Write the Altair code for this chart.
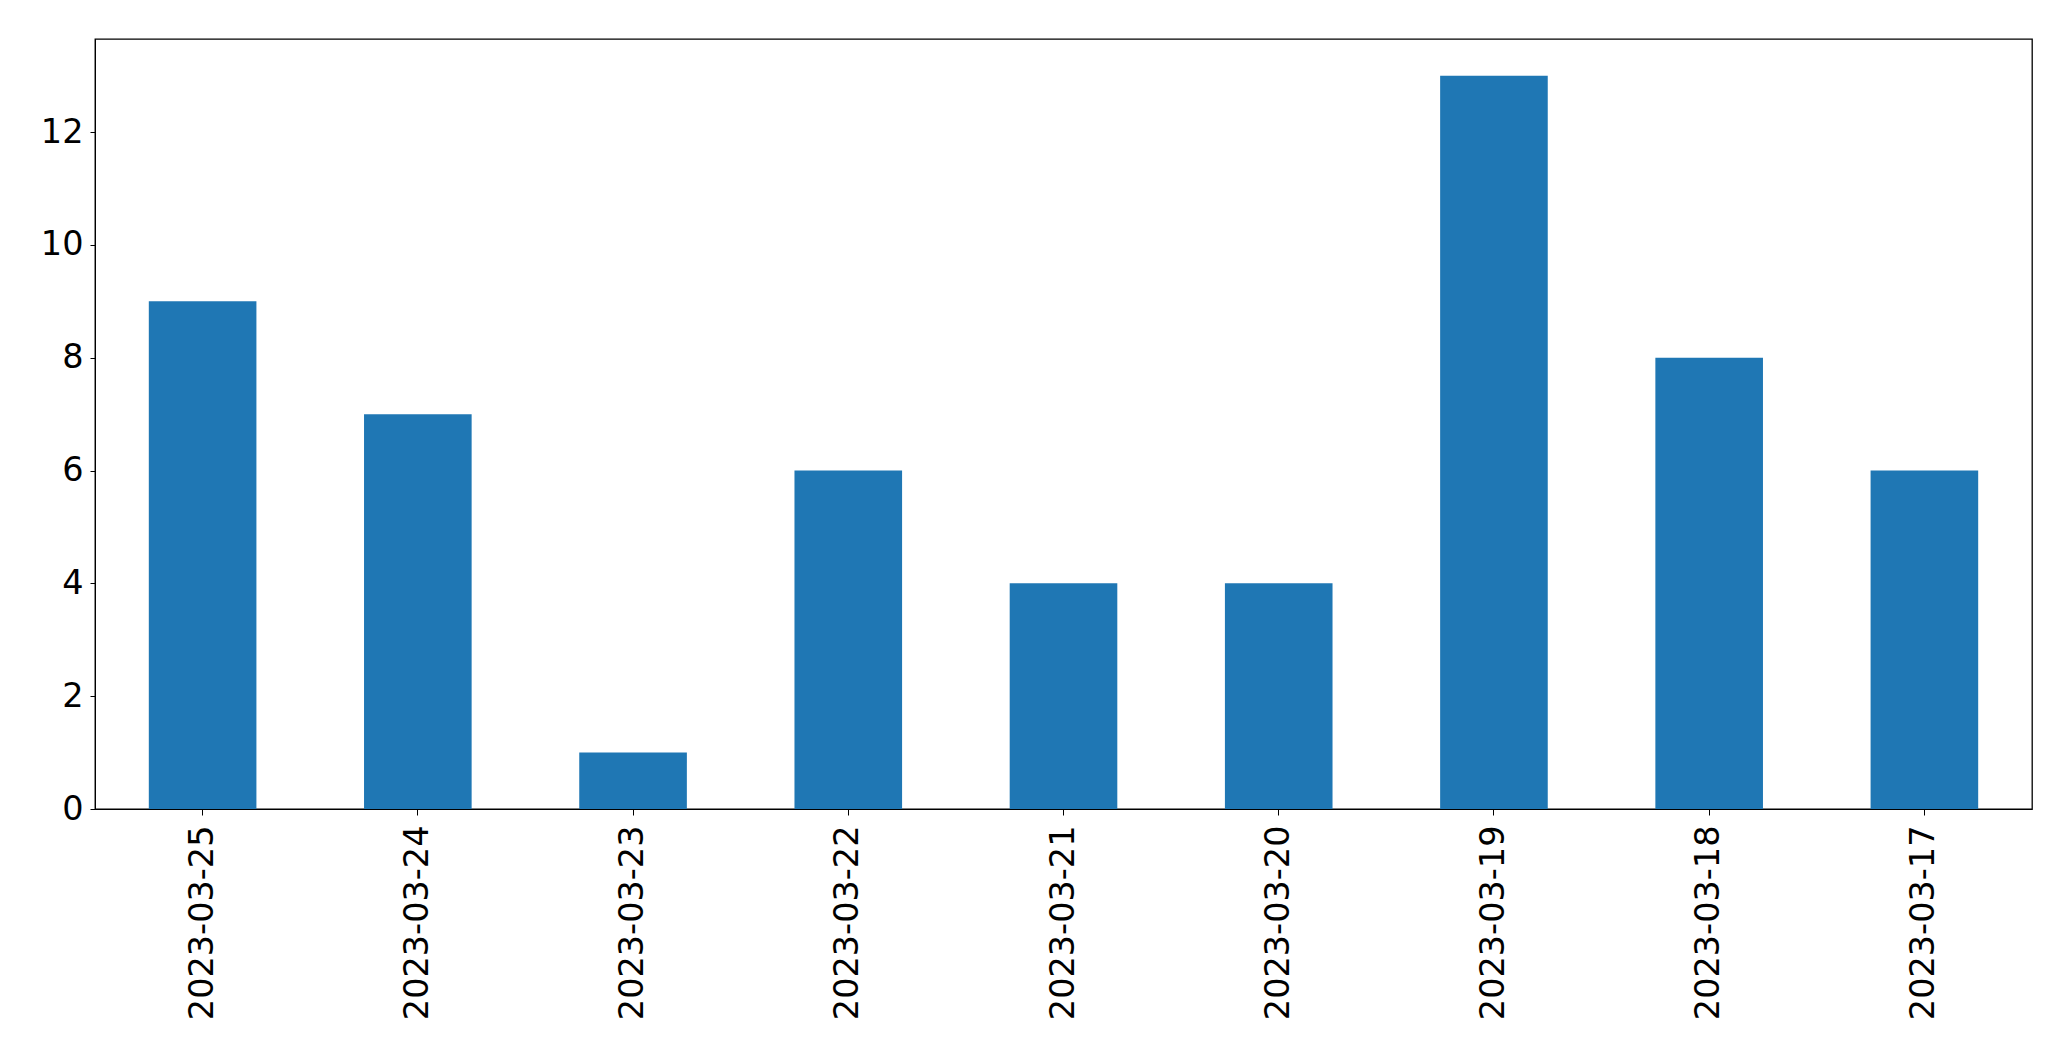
import altair as alt
import pandas as pd

dates = ["2023-03-25", "2023-03-24", "2023-03-23", "2023-03-22", "2023-03-21",
         "2023-03-20", "2023-03-19", "2023-03-18", "2023-03-17"]
counts = [9, 7, 1, 6, 4, 4, 13, 8, 6]

df = pd.DataFrame({"date": dates, "count": counts})

chart = alt.Chart(df).mark_bar(color="#1f77b4").encode(
    x=alt.X("date:N", sort=dates, title=None,
            scale=alt.Scale(paddingInner=0.5, paddingOuter=0.25),
            axis=alt.Axis(labelAngle=-90, labelFontSize=33.5, labelFont="DejaVu Sans",
                          labelColor="black", tickColor="black", tickSize=6,
                          domainColor="black", labelPadding=10, labelLimit=0,
                          grid=False)),
    y=alt.Y("count:Q", title=None,
            scale=alt.Scale(domain=[0, 13.65], nice=False),
            axis=alt.Axis(values=[0, 2, 4, 6, 8, 10, 12], labelFontSize=33.5,
                          labelFont="DejaVu Sans", labelColor="black",
                          tickColor="black", tickSize=5, domainColor="black",
                          labelPadding=7, grid=False)),
).properties(
    width=1937, height=770,
    autosize=alt.AutoSizeParams(type="none"),
    padding={"left": 87, "top": 31, "right": 30, "bottom": 225},
).configure_view(stroke="black", strokeWidth=1.3)

chart.save("out.html", embed_options={"renderer": "svg", "actions": False})
